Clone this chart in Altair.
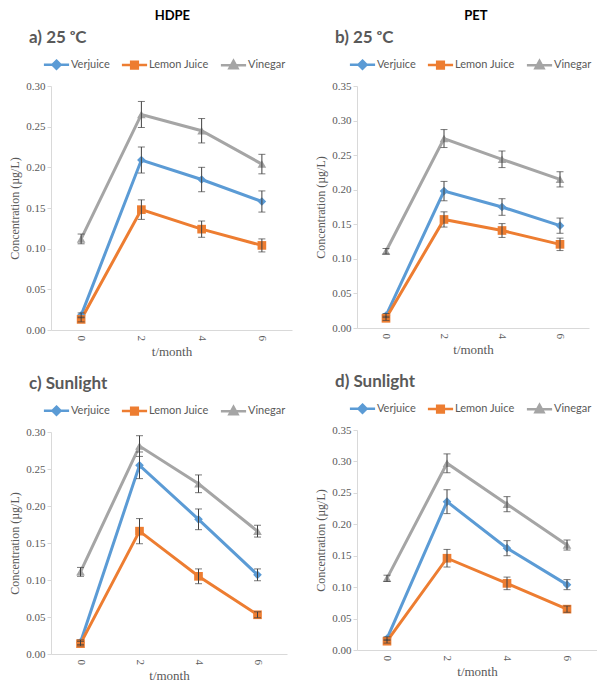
import altair as alt
import pandas as pd

months = [0, 2, 4, 6]
series = ["Verjuice", "Lemon Juice", "Vinegar"]
colors = ["#5B9BD5", "#ED7D31", "#A5A5A5"]
marker_shapes = ["diamond", "square", "triangle-up"]
y_ticks_030 = [0.00, 0.05, 0.10, 0.15, 0.20, 0.25, 0.30]
y_ticks_035 = [0.00, 0.05, 0.10, 0.15, 0.20, 0.25, 0.30, 0.35]

# a) HDPE, 25 oC
a_verjuice = [0.018, 0.209, 0.185, 0.158]
a_verjuice_err = [0.003, 0.016, 0.015, 0.013]
a_lemon = [0.013, 0.148, 0.124, 0.104]
a_lemon_err = [0.003, 0.012, 0.010, 0.008]
a_vinegar = [0.112, 0.265, 0.245, 0.204]
a_vinegar_err = [0.006, 0.016, 0.015, 0.012]

# b) PET, 25 oC
b_verjuice = [0.018, 0.198, 0.175, 0.148]
b_verjuice_err = [0.003, 0.014, 0.012, 0.011]
b_lemon = [0.014, 0.157, 0.141, 0.121]
b_lemon_err = [0.003, 0.011, 0.010, 0.009]
b_vinegar = [0.111, 0.274, 0.244, 0.215]
b_vinegar_err = [0.004, 0.013, 0.012, 0.011]

# c) HDPE, Sunlight
c_verjuice = [0.016, 0.255, 0.182, 0.107]
c_verjuice_err = [0.003, 0.018, 0.014, 0.008]
c_lemon = [0.014, 0.166, 0.105, 0.053]
c_lemon_err = [0.003, 0.017, 0.010, 0.004]
c_vinegar = [0.111, 0.281, 0.230, 0.166]
c_vinegar_err = [0.006, 0.014, 0.012, 0.008]

# d) PET, Sunlight
d_verjuice = [0.018, 0.236, 0.162, 0.104]
d_verjuice_err = [0.003, 0.019, 0.012, 0.008]
d_lemon = [0.014, 0.146, 0.106, 0.065]
d_lemon_err = [0.003, 0.014, 0.010, 0.005]
d_vinegar = [0.114, 0.297, 0.232, 0.167]
d_vinegar_err = [0.005, 0.015, 0.012, 0.008]

legend_paths = [
    "M-3.6,0H3.6M0,-1.15L1.15,0L0,1.15L-1.15,0Z",
    "M-3.6,0H3.6M-0.95,-0.95H0.95V0.95H-0.95Z",
    "M-3.6,0H3.6M0,-1.2L1.15,0.9H-1.15Z",
]

GRAY = "#595959"
AXIS_LINE = "#d9d9d9"


def panel(title, vals, errs, yticks, w, h):
    rows = []
    for s, v, e in zip(series, vals, errs):
        for m, y, err in zip(months, v, e):
            rows.append({"month": m, "series": s, "conc": y,
                         "lo": y - err, "hi": y + err})
    df = pd.DataFrame(rows)
    base = alt.Chart(df)

    xenc = alt.X("month:O", title="t/month",
                 axis=alt.Axis(labelAngle=90, ticks=False, domainColor=AXIS_LINE,
                               labelFont="Liberation Serif", labelFontSize=11,
                               labelColor=GRAY, labelPadding=5,
                               titleFont="Liberation Serif", titleFontSize=13,
                               titleFontWeight="normal", titleColor=GRAY,
                               titlePadding=5))

    def yenc(field):
        return alt.Y(field, title="Concentration (µg/L)",
                     scale=alt.Scale(domain=[yticks[0], yticks[-1]], nice=False),
                     axis=alt.Axis(values=yticks, format=".2f", grid=False,
                                   domainColor=AXIS_LINE, tickColor=AXIS_LINE,
                                   tickSize=4, labelFont="Liberation Serif",
                                   labelFontSize=11, labelColor=GRAY, labelPadding=2,
                                   titleFont="Liberation Serif", titleFontSize=12,
                                   titleFontWeight="normal", titleColor=GRAY,
                                   titlePadding=4))

    cscale = alt.Scale(domain=series, range=colors)

    leg = alt.Legend(orient="top", direction="horizontal", title=None,
                     symbolSize=49, symbolStrokeWidth=2.5, symbolOpacity=1,
                     labelOffset=9, columnPadding=6, offset=12,
                     labelFont="Lato", labelFontSize=11, labelColor=GRAY)

    # invisible layer that only supplies the legend (line + marker symbols)
    layers = [base.mark_point(filled=True, strokeWidth=2.5, opacity=0).encode(
        x=xenc, y=yenc("conc:Q"),
        fill=alt.Fill("series:N", scale=cscale, legend=leg),
        stroke=alt.Stroke("series:N", scale=cscale, legend=leg),
        shape=alt.Shape("series:N", legend=leg,
                        scale=alt.Scale(domain=series, range=legend_paths)),
    )]
    layers.append(base.mark_line(strokeWidth=3).encode(
        x=xenc, y=yenc("conc:Q"),
        color=alt.Color("series:N", scale=cscale, legend=None),
    ))
    for s, col, shp in zip(series, colors, marker_shapes):
        layers.append(
            base.transform_filter(alt.datum.series == s).mark_point(
                filled=True, opacity=1, shape=shp, color=col, size=75
            ).encode(x=xenc, y=yenc("conc:Q"))
        )
    layers.append(base.mark_rule(color="#404040", strokeWidth=1).encode(
        x=xenc, y=yenc("lo:Q"), y2="hi:Q"))
    layers.append(base.mark_tick(color="#404040", thickness=1, size=7).encode(
        x=xenc, y=yenc("lo:Q")))
    layers.append(base.mark_tick(color="#404040", thickness=1, size=7).encode(
        x=xenc, y=yenc("hi:Q")))

    return alt.layer(*layers).properties(
        width=w, height=h,
        title=alt.TitleParams(title, anchor="start", frame="group", dx=-22,
                              font="Lato", fontSize=17, fontWeight="bold",
                              color=GRAY, offset=12),
    )


pa = panel("a) 25 ᵒC", [a_verjuice, a_lemon, a_vinegar],
           [a_verjuice_err, a_lemon_err, a_vinegar_err], y_ticks_030, 241, 244)
pb = panel("b) 25 ᵒC", [b_verjuice, b_lemon, b_vinegar],
           [b_verjuice_err, b_lemon_err, b_vinegar_err], y_ticks_035, 232, 242)
pc = panel("c) Sunlight", [c_verjuice, c_lemon, c_vinegar],
           [c_verjuice_err, c_lemon_err, c_vinegar_err], y_ticks_030, 236, 222)
pd_ = panel("d) Sunlight", [d_verjuice, d_lemon, d_vinegar],
            [d_verjuice_err, d_lemon_err, d_vinegar_err], y_ticks_035, 240, 220)

ind = dict(x="independent", y="independent", color="independent",
           fill="independent", stroke="independent", shape="independent")

col1 = alt.vconcat(pa, pc, spacing=16,
                   title=alt.TitleParams("HDPE", anchor="middle", dx=22,
                                         font="Lato", fontSize=13,
                                         fontWeight="bold", color="black",
                                         offset=6)).resolve_scale(**ind)
col2 = alt.vconcat(pb, pd_, spacing=16,
                   title=alt.TitleParams("PET", anchor="middle", dx=20,
                                         font="Lato", fontSize=13,
                                         fontWeight="bold", color="black",
                                         offset=6)).resolve_scale(**ind)

chart = alt.hconcat(col1, col2, spacing=22).resolve_scale(**ind).properties(
    padding={"left": 0, "top": 2, "right": 0, "bottom": 0},
    background="white",
).configure_view(strokeWidth=0)

chart.save("out.html", embed_options={"renderer": "svg", "actions": False})
